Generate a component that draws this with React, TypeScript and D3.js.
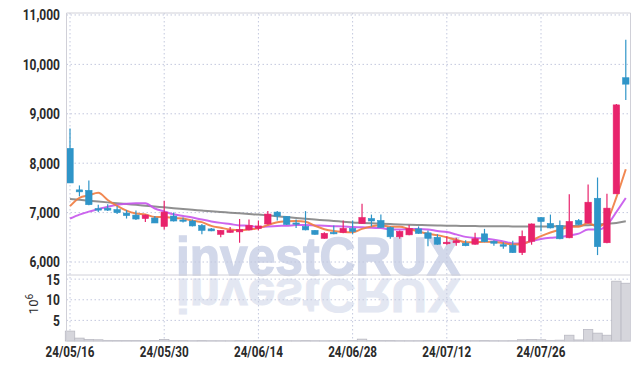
import React from "react";
import * as d3 from "d3";

const dates = [
  "24/05/16","24/05/17","24/05/20","24/05/21","24/05/22","24/05/23","24/05/24","24/05/27","24/05/28","24/05/29",
  "24/05/30","24/05/31","24/06/03","24/06/04","24/06/05","24/06/07","24/06/10","24/06/11","24/06/12","24/06/13",
  "24/06/14","24/06/17","24/06/18","24/06/19","24/06/20","24/06/21","24/06/24","24/06/25","24/06/26","24/06/27",
  "24/06/28","24/07/01","24/07/02","24/07/03","24/07/04","24/07/05","24/07/08","24/07/09","24/07/10","24/07/11",
  "24/07/12","24/07/15","24/07/16","24/07/17","24/07/18","24/07/19","24/07/22","24/07/23","24/07/24","24/07/25",
  "24/07/26","24/07/29","24/07/30","24/07/31","24/08/01","24/08/02","24/08/05","24/08/06","24/08/07","24/08/08",
];

const openP = [
  8300,7460,7450,7080,7090,7060,6990,6950,6880,6890,
  6720,6930,6850,6830,6740,6670,6560,6600,6610,6650,
  6680,6770,7010,6920,6790,6720,6640,6480,6600,6600,
  6680,6780,6880,6840,6700,6510,6550,6670,6590,6500,
  6370,6390,6380,6360,6570,6420,6350,6340,6190,6420,
  6900,6780,6740,6490,6840,6790,7290,6390,7380,9730,
];
const highP = [
  8700,7550,7650,7160,7170,7130,7050,7040,6960,6930,
  7240,7000,6900,6860,6770,6690,6650,6710,6870,6860,
  6840,7030,7030,6930,6860,7030,6650,6600,6740,6840,
  6840,7180,6960,6960,6720,6640,6750,6720,6640,6560,
  6520,6490,6440,6590,6670,6440,6400,6430,6640,6780,
  6910,6960,6840,7370,6870,7570,7710,7380,9200,10500,
];
const lowP = [
  7600,7330,7150,7010,7030,6970,6880,6850,6810,6790,
  6660,6820,6800,6720,6560,6620,6500,6590,6390,6640,
  6640,6760,6840,6750,6690,6640,6550,6470,6560,6580,
  6560,6770,6720,6690,6470,6470,6540,6570,6320,6350,
  6350,6330,6320,6350,6400,6330,6270,6180,6140,6350,
  6620,6680,6460,6480,6750,6780,6140,6380,7380,9280,
];
const closeP = [
  7600,7420,7160,7050,7050,7000,6940,6870,6950,6790,
  7010,6830,6825,6730,6640,6630,6640,6640,6660,6740,
  6730,6970,6930,6760,6770,6650,6560,6580,6570,6680,
  6620,6900,6830,6700,6510,6620,6680,6580,6480,6360,
  6400,6430,6330,6470,6410,6380,6320,6190,6520,6770,
  6820,6690,6470,6820,6760,7210,6310,7090,9180,9600,
];

const ma5 = [
  7130,7300,7350,7400,7256,7136,7040,6982,6962,6910,
  6912,6890,6881,6837,6807,6731,6693,6656,6642,6662,
  6682,6748,6806,6826,6832,6816,6734,6664,6626,6608,
  6602,6670,6720,6746,6712,6712,6668,6618,6574,6544,
  6500,6450,6400,6398,6408,6404,6382,6354,6364,6436,
  6524,6598,6654,6714,6712,6790,6714,6838,7310,7878,
];
const ma10 = [
  6880,6960,7020,7070,7120,7160,7180,7190,7190,7083,
  7024,6965,6932,6900,6859,6822,6792,6769,6740,6735,
  6707,6721,6731,6734,6747,6749,6741,6735,6726,6720,
  6709,6702,6692,6686,6660,6657,6669,6669,6660,6628,
  6606,6559,6509,6486,6476,6452,6416,6377,6381,6422,
  6464,6490,6504,6539,6574,6657,6656,6746,7012,7295,
];
const ma60 = [
  7275,7258,7241,7224,7207,7190,7173,7157,7140,7123,
  7107,7090,7074,7058,7041,7025,7012,6999,6986,6973,
  6960,6943,6926,6909,6892,6875,6860,6845,6830,6815,
  6800,6792,6784,6776,6768,6760,6755,6750,6745,6740,
  6735,6732,6730,6727,6725,6722,6722,6721,6721,6720,
  6720,6721,6722,6728,6735,6746,6757,6773,6790,6825,
];

const volume = [
  2.4,0.7,0.35,0.3,0.15,0.12,0.1,0.1,0.08,0.1,
  0.35,0.12,0.1,0.08,0.1,0.08,0.07,0.06,0.1,0.08,
  0.1,0.12,0.1,0.08,0.07,0.1,0.08,0.06,0.07,0.08,
  0.1,0.45,0.12,0.1,0.1,0.08,0.07,0.08,0.1,0.08,
  0.07,0.06,0.07,0.08,0.1,0.07,0.06,0.08,0.3,0.35,
  0.3,0.15,0.2,1.4,0.25,2.8,1.9,1.4,14.5,14.0,
];

const priceTicks = [6000, 7000, 8000, 9000, 10000, 11000];
const volTicks = [5, 10, 15];
const dateTicks = ["24/05/16","24/05/30","24/06/14","24/06/28","24/07/12","24/07/26"];

const W = 639, H = 369;
const L = 66.5, R = 630.5;
const PT = 13, PB = 275, VB = 341;

const UP = "#e8236c";
const DOWN = "#2f95c8";
const GRID = "#c3c8de";
const FRAME = "#d0d0d8";
const TXT = "#2a2a2a";
const FONT = "Roboto, 'Noto Sans', sans-serif";

export default function App() {
  const x = d3.scaleBand<string>().domain(dates).range([65.3, 630.5]).padding(0);
  const cx = (i: number) => (x(dates[i]) as number) + x.bandwidth() / 2;
  const y = d3.scaleLinear().domain([5737, 11040]).range([PB, PT]);
  const yv = d3.scaleLinear().domain([0, 16]).range([VB, PB]);

  const line = (arr: number[]) =>
    d3.line<number>().x((_, i) => cx(i)).y((v) => y(v)).curve(d3.curveMonotoneX)(arr) || "";

  const bodyW = 6.4;
  const wm = "investCRUX";
  const wmBase = 275;
  const refScale = 0.88;

  return (
    <svg width={W} height={H} style={{ display: "block", position: "absolute", left: 0, top: 0 }}>
      <rect x={0} y={0} width={W} height={H} fill="#fff" />
      {/* watermark */}
      <g fontFamily="'Liberation Sans', Arial, sans-serif" fontWeight="bold" fill="#d2d8ea">
        <text x={176} y={wmBase} fontSize={54} textLength={284} lengthAdjust="spacingAndGlyphs"
          stroke="#d2d8ea" strokeWidth={1.4}>{wm}</text>
        <g transform={`translate(0,${wmBase + 4}) scale(1,${-refScale})`} opacity={0.6}>
          <text x={176} y={0} fontSize={54} textLength={284} lengthAdjust="spacingAndGlyphs"
            stroke="#d2d8ea" strokeWidth={1.2}>{wm}</text>
        </g>
      </g>

      {/* horizontal grid */}
      {priceTicks.map((t) => (
        <line key={"pg" + t} x1={L} x2={R} y1={y(t)} y2={y(t)} stroke={GRID} strokeDasharray="1.5,2.5" />
      ))}
      {volTicks.map((t) => (
        <line key={"vg" + t} x1={L} x2={R} y1={yv(t)} y2={yv(t)} stroke={GRID} strokeDasharray="1.5,2.5" />
      ))}
      {dateTicks.map((d) => (
        <line key={"xg" + d} x1={cx(dates.indexOf(d))} x2={cx(dates.indexOf(d))} y1={PT} y2={VB}
          stroke={GRID} strokeDasharray="1.5,2.5" />
      ))}

      {/* volume bars */}
      {volume.map((v, i) => (
        <rect key={"v" + i} x={x(dates[i]) as number} width={x.bandwidth()} y={yv(v)} height={VB - yv(v)}
          fill="#d6d6dc" stroke="#b9b9c2" strokeWidth={0.8} />
      ))}

      {/* moving averages */}
      <path d={line(ma60)} fill="none" stroke="#7d7d7d" strokeWidth={2} opacity={0.85} />
      <path d={line(ma10)} fill="none" stroke="#c654ec" strokeWidth={2} opacity={0.9} />
      <path d={line(ma5)} fill="none" stroke="#ef7b3f" strokeWidth={2} opacity={0.9} />

      {/* candles */}
      {dates.map((d, i) => {
        const o = openP[i], c = closeP[i], hi = highP[i], lo = lowP[i];
        const col = c >= o ? UP : DOWN;
        const top = y(Math.max(o, c));
        const bh = Math.max(1.2, y(Math.min(o, c)) - top);
        return (
          <g key={"c" + i}>
            <line x1={cx(i)} x2={cx(i)} y1={y(hi)} y2={y(lo)} stroke={col} strokeWidth={1.2} />
            <rect x={cx(i) - bodyW / 2} width={bodyW} y={top} height={bh} fill={col} stroke={col} strokeWidth={0.6} />
          </g>
        );
      })}

      {/* frame */}
      <line x1={L} x2={R} y1={PT} y2={PT} stroke={FRAME} />
      <line x1={L} x2={R} y1={PB} y2={PB} stroke={FRAME} />
      <line x1={L} x2={R} y1={VB} y2={VB} stroke={FRAME} />
      <line x1={L} x2={L} y1={PT} y2={VB} stroke={FRAME} />
      <line x1={R} x2={R} y1={PT} y2={VB} stroke={FRAME} />

      {/* price axis labels */}
      {priceTicks.map((t) => (
        <g key={"pl" + t} transform={`translate(60,${y(t)})`}>
          <text transform="scale(0.8,1)" textAnchor="end" dy="0.36em" fontFamily={FONT} fontSize={15}
            fontWeight="bold" fill={TXT}>{d3.format(",")(t)}</text>
        </g>
      ))}
      {/* volume axis labels */}
      {volTicks.map((t) => (
        <g key={"vl" + t} transform={`translate(60,${yv(t)})`}>
          <text transform="scale(0.8,1)" textAnchor="end" dy="0.36em" fontFamily={FONT} fontSize={15}
            fontWeight="bold" fill={TXT}>{t}</text>
        </g>
      ))}
      <g transform="translate(38,304) rotate(-90)">
        <text textAnchor="middle" fontFamily={FONT} fontSize={13} fill={TXT}>
          10<tspan dy={-5} fontSize={10}>6</tspan>
        </text>
      </g>

      {/* date labels */}
      {dateTicks.map((d) => (
        <g key={"xl" + d} transform={`translate(${cx(dates.indexOf(d))},357)`}>
          <text transform="scale(0.78,1)" textAnchor="middle" fontFamily={FONT} fontSize={15}
            fontWeight="bold" fill={TXT}>{d}</text>
        </g>
      ))}
    </svg>
  );
}
